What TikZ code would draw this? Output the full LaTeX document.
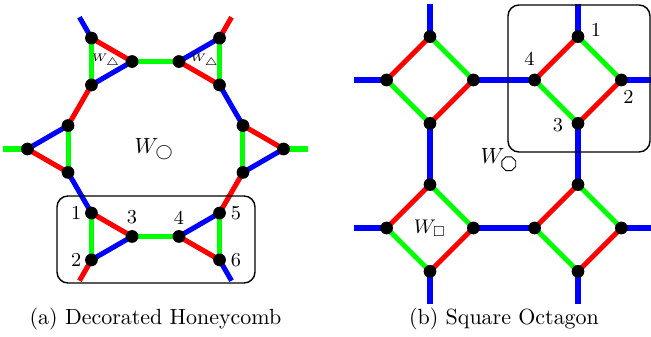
\documentclass[tikz,border=0pt]{standalone}
\usepackage{amssymb}
\usetikzlibrary{positioning}

\tikzset{
  dot/.style={circle, fill=black, inner sep=0pt, minimum size=5.8pt},
  bond/.style={line width=2.3pt},
  num/.style={font=\small, inner sep=0pt},
  cell/.style={line width=0.65pt, rounded corners=5pt},
}
% small octagon for the plaquette label
\newcommand{\octsub}{\tikz[baseline={(0,-3.3pt)}]\draw[line width=0.4pt] (22.5:3.4pt) \foreach \k in {1,...,7} {-- (22.5+\k*45:3.4pt)} -- cycle;}

\begin{document}
\begin{tikzpicture}[>=latex]
  \useasboundingbox (-2.488,-3.008) rectangle (7.928,2.384);

  % (a) decorated honeycomb
  \foreach \t/\a in {0/0,60/60,120/0,180/60,240/0,300/60}
    \foreach \p in {0,120,240} {
      \pgfmathtruncatemacro{\q}{\a+\p}
      \coordinate (h\t-\q) at ([shift={(\q:0.433)}]\t:1.616);
      \coordinate (h\t-\q-out) at ([shift={(\q:0.385)}]h\t-\q);
    }
  \draw[bond, green] (h120-120) -- (h120-240) (h120-0) -- (h60-180)
    (h60-60) -- (h60-300) (h0-120) -- (h0-240) (h300-60) -- (h300-300)
    (h300-180) -- (h240-0) (h240-120) -- (h240-240) (h180-60) -- (h180-300)
    (h0-0) -- (h0-0-out) (h180-180) -- (h180-180-out);
  \draw[bond, red] (h120-120) -- (h120-0) (h60-180) -- (h60-300)
    (h0-120) -- (h0-0) (h0-240) -- (h300-60) (h300-180) -- (h300-300)
    (h240-120) -- (h240-0) (h180-180) -- (h180-300) (h180-60) -- (h120-240)
    (h60-60) -- (h60-60-out) (h240-240) -- (h240-240-out);
  \draw[bond, blue] (h120-240) -- (h120-0) (h60-180) -- (h60-60)
    (h60-300) -- (h0-120) (h0-0) -- (h0-240) (h300-180) -- (h300-60)
    (h240-240) -- (h240-0) (h240-120) -- (h180-300) (h180-60) -- (h180-180)
    (h120-120) -- (h120-120-out) (h300-300) -- (h300-300-out);
  \foreach \t/\a in {0/0,60/60,120/0,180/60,240/0,300/60}
    \foreach \p in {0,120,240} {
      \pgfmathtruncatemacro{\q}{\a+\p}
      \node[dot] (dot-h\t-\q) at (h\t-\q) {};
    }

  \draw[cell] (-1.576,-0.752) rectangle (1.592,-2.144);
  \node[num, left=4.4pt of h240-120] (a1) {1};
  \node[num, left=4.4pt of h240-240] (a2) {2};
  \node[num, above=5.3pt of h240-0] (a3) {3};
  \node[num, above=5.3pt of h300-180] (a4) {4};
  \node[num, right=5pt of h300-60] (a5) {5};
  \node[num, right=5pt of h300-300] (a6) {6};

  \node (w-hex) at (-0.02,0) {$W_{\bigcirc}$};
  \node[font=\tiny, inner sep=0pt] (w-tri-l) at (-0.79,1.41) {$W_{\triangle}$};
  \node[font=\tiny, inner sep=0pt] (w-tri-r) at (0.79,1.41) {$W_{\triangle}$};
  \node (cap-a) at (0,-2.72) {(a) Decorated Honeycomb};

  % (b) square octagon
  \begin{scope}[shift={(4.392,1.104)}]
    \foreach \n/\x/\y in {a/0/0, b/2.368/0, c/0/-2.368, d/2.368/-2.368} {
      \coordinate (sq-\n) at (\x,\y);
      \foreach \dir/\ang in {n/90,e/0,s/270,w/180} {
        \coordinate (sq-\n-\dir) at ([shift={(\ang:0.694)}]sq-\n);
        \coordinate (sq-\n-\dir-out) at ([shift={(\ang:0.52)}]sq-\n-\dir);
      }
    }
    \foreach \n in {a,b,c,d} {
      \draw[bond, red] (sq-\n-n) -- (sq-\n-w) (sq-\n-e) -- (sq-\n-s);
      \draw[bond, green] (sq-\n-n) -- (sq-\n-e) (sq-\n-w) -- (sq-\n-s);
    }
    \draw[bond, blue] (sq-a-e) -- (sq-b-w) (sq-c-e) -- (sq-d-w)
      (sq-a-s) -- (sq-c-n) (sq-b-s) -- (sq-d-n)
      (sq-a-n) -- (sq-a-n-out) (sq-b-n) -- (sq-b-n-out)
      (sq-a-w) -- (sq-a-w-out) (sq-c-w) -- (sq-c-w-out)
      (sq-b-e) -- (sq-b-e-out) (sq-d-e) -- (sq-d-e-out)
      (sq-c-s) -- (sq-c-s-out) (sq-d-s) -- (sq-d-s-out);
    \foreach \n in {a,b,c,d}
      \foreach \dir in {n,e,s,w}
        \node[dot] (dot-sq-\n-\dir) at (sq-\n-\dir) {};

    \draw[cell] (1.248,1.2) rectangle (3.52,-1.152);
    \node[num] (b1) at ([shift={(8.2pt,3.2pt)}]sq-b-n) {1};
    \node[num] (b2) at ([shift={(3.2pt,-7.7pt)}]sq-b-e) {2};
    \node[num] (b3) at ([shift={(-9.1pt,-0.9pt)}]sq-b-s) {3};
    \node[num] (b4) at ([shift={(-2.3pt,9.6pt)}]sq-b-w) {4};

    \node (w-oct) at (1.104,-1.28) {$W_{\octsub}$};
    \node[font=\small] (w-sq) at (sq-c) {$W_{\square}$};
    \node (cap-b) at (1.184,-3.824) {(b) Square Octagon};
  \end{scope}
\end{tikzpicture}
\end{document}
